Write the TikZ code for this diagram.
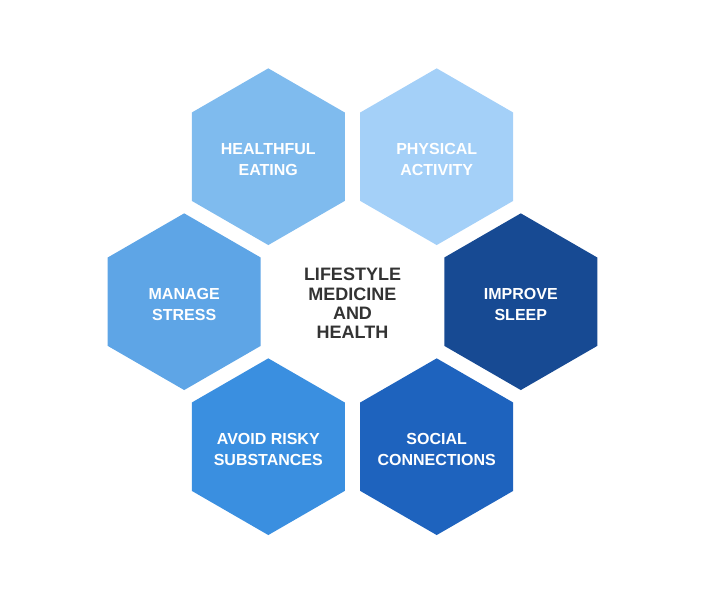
\documentclass[tikz,border=0pt]{standalone}
\usepackage{fontspec}
\setmainfont{Liberation Sans}
\usetikzlibrary{shapes.geometric}

\definecolor{eatblue}{HTML}{7FBBEE}
\definecolor{moveblue}{HTML}{A4D0F8}
\definecolor{stressblue}{HTML}{5EA5E6}
\definecolor{sleepblue}{HTML}{174A93}
\definecolor{riskblue}{HTML}{3A8FE0}
\definecolor{socialblue}{HTML}{1E63BE}
\definecolor{coretext}{HTML}{333333}

\begin{document}
\begin{tikzpicture}[x=1pt, y=-1pt,
    hexcell/.style={regular polygon, regular polygon sides=6, regular polygon rotate=30,
      minimum size=176.7pt, inner sep=0pt, outer sep=0pt, fill=#1},
    celltext/.style={text=white, align=center, yshift=-3pt,
      font=\fontsize{16}{20.7}\selectfont\bfseries}]
      \useasboundingbox (0,0) rectangle (705,616);
      % outer ring of cells
      \node [hexcell=eatblue] (eating) at (268.3,156.7) {};
      \node [hexcell=moveblue] (activity) at (436.7,156.7) {};
      \node [hexcell=stressblue] (stress) at (184.2,301.7) {};
      \node [hexcell=sleepblue] (sleep) at (520.8,301.7) {};
      \node [hexcell=riskblue] (substances) at (268.3,446.7) {};
      \node [hexcell=socialblue] (social) at (436.7,446.7) {};
      % cell texts
      \node [celltext] (eatingtext) at (eating) {HEALTHFUL\\EATING};
      \node [celltext] (activitytext) at (activity) {PHYSICAL\\ACTIVITY};
      \node [celltext] (stresstext) at (stress) {MANAGE\\STRESS};
      \node [celltext] (sleeptext) at (sleep) {IMPROVE\\SLEEP};
      \node [celltext] (substancestext) at (substances) {AVOID RISKY\\SUBSTANCES};
      \node [celltext] (socialtext) at (social) {SOCIAL\\CONNECTIONS};
      % centre text
      \node [align=center, text=coretext, font=\fontsize{18}{19.2}\selectfont\bfseries] (core) at (352.5,303.5) {LIFESTYLE\\MEDICINE\\AND\\HEALTH};
    \end{tikzpicture}
\end{document}
